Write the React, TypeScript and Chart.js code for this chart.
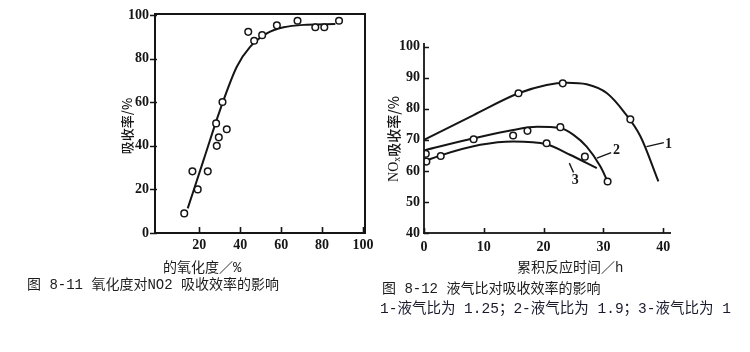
import React, { useEffect, useRef } from "react";
import { Chart, registerables } from "chart.js";

Chart.register(...registerables);

// ---------- Figure 8-11: oxidation degree vs absorption ----------
const oxDegree = [12.6, 16.6, 19.2, 24.1, 28.2, 28.5, 29.5, 31.3, 33.4, 43.9, 46.8, 50.7, 57.9, 68.0, 76.7, 81.1, 88.3];
const absorbRate = [9.0, 28.3, 20.0, 28.3, 50.3, 40.0, 43.9, 60.1, 47.6, 92.3, 88.2, 90.8, 95.3, 97.4, 94.4, 94.4, 97.4];
const fitOx = [14.3, 22.2, 30.1, 38.3, 44.9, 53.0, 61.2, 72.6, 86.5];
const fitRate = [11.3, 33.9, 56.4, 76.3, 85.5, 91.6, 94.4, 95.6, 95.9];
const leftXTicks = [20, 40, 60, 80, 100];
const leftYTicks = [0, 20, 40, 60, 80, 100];

// ---------- Figure 8-12: liquid/gas ratio ----------
const curve1T = [0, 8.3, 15.8, 20.5, 23.9, 27.2, 30.6, 33.4, 36.2, 39.2];
const curve1V = [70.0, 78.0, 85.0, 87.7, 88.4, 87.9, 85.0, 79.1, 71.1, 56.6];
const pts1T = [15.8, 23.2, 34.5];
const pts1V = [85.0, 88.2, 76.6];

const curve2T = [0, 8.3, 14.9, 18.9, 22.8, 25.0, 27.2, 29.5, 30.7];
const curve2V = [66.6, 70.5, 73.2, 74.2, 73.8, 71.6, 67.8, 61.4, 56.6];
const pts2T = [0.3, 8.3, 14.9, 17.3, 22.8, 26.9, 30.7];
const pts2V = [65.5, 70.2, 71.4, 72.9, 74.1, 64.6, 56.6];

const curve3T = [0.2, 2.8, 9.4, 14.9, 20.5, 24.4, 28.9];
const curve3V = [63.2, 65.0, 68.4, 69.5, 68.6, 65.2, 60.9];
const pts3T = [0.4, 2.8, 20.5];
const pts3V = [63.0, 64.8, 68.9];

const curveLabels = ["1", "2", "3"];
const labelT = [40.9, 32.2, 25.3];
const labelV = [68.4, 66.6, 57.1];
const leaderT = [[37.2, 40.1], [28.9, 31.3], [24.3, 25.0]];
const leaderV = [[67.8, 69.1], [64.1, 65.9], [62.5, 59.5]];
const rightXTicks = [0, 10, 20, 30, 40];
const rightYTicks = [40, 50, 60, 70, 80, 90, 100];

// ---------- Texts ----------
const leftYTitle = "吸收率/%";
const leftXTitle = "的氧化度／%";
const leftCaption = "图 8-11 氧化度对NO2 吸收效率的影响";
const rightYTitleMain = "NO";
const rightYTitleSub = "x";
const rightYTitleRest = "吸收率/%";
const rightXTitle = "累积反应时间／h";
const rightCaption = "图 8-12 液气比对吸收效率的影响";
const rightNote = "1-液气比为 1.25；2-液气比为 1.9；3-液气比为 1";

const INK = "#151515";
const TICK_FONT = { family: "'Liberation Serif', 'DejaVu Serif', serif", size: 14, weight: "bold" as const };
const CAP = "'Liberation Mono', 'Noto Sans CJK SC', monospace";
const CJK = "'Noto Sans CJK SC', sans-serif";
const SERIF = "'Liberation Serif', serif";

const zip = (xs: number[], ys: number[]) => xs.map((x, i) => ({ x, y: ys[i] }));

function fixAxis(width?: number, height?: number) {
  return (scale: any) => {
    if (width !== undefined) scale.width = width;
    if (height !== undefined) scale.height = height;
    scale.paddingTop = 0;
    scale.paddingBottom = 0;
    scale.paddingLeft = 0;
    scale.paddingRight = 0;
  };
}

function setTicks(values: number[]) {
  return (scale: any) => {
    scale.ticks = values.map((v) => ({ value: v }));
  };
}

type TextItem = { text: string; x: number; y: number; font: string; color?: string };

function makeDecor(name: string, frame: boolean, yOut: number, yIn: number, xIn: number, texts: TextItem[], vtitle: (ctx: any) => void) {
  return {
    id: name,
    afterDatasetsDraw(chart: any) {
      const ctx = chart.ctx;
      const area = chart.chartArea;
      const xs = chart.scales.x;
      const ys = chart.scales.y;
      ctx.save();
      ctx.strokeStyle = INK;
      ctx.fillStyle = INK;
      const w = 1.8;
      ctx.fillRect(area.left - w / 2, area.top, w, area.bottom - area.top + w / 2);
      ctx.fillRect(area.left - w / 2, area.bottom - w / 2, area.right - area.left + w / 2, w);
      if (frame) {
        ctx.fillRect(area.left - w / 2, area.top - w / 2, area.right - area.left + w, w);
        ctx.fillRect(area.right - w / 2, area.top - w / 2, w, area.bottom - area.top + w);
      }
      ctx.lineWidth = 1.6;
      ctx.beginPath();
      ys.ticks.forEach((t: any) => {
        const py = Math.round(ys.getPixelForValue(t.value)) + 0.5;
        ctx.moveTo(area.left - yOut, py);
        ctx.lineTo(area.left + yIn, py);
      });
      xs.ticks.forEach((t: any) => {
        const px = Math.round(xs.getPixelForValue(t.value)) + 0.5;
        ctx.moveTo(px, area.bottom);
        ctx.lineTo(px, area.bottom - xIn);
      });
      ctx.stroke();
      ctx.textBaseline = "middle";
      ctx.textAlign = "left";
      texts.forEach((t) => {
        ctx.font = t.font;
        ctx.fillStyle = t.color || "#1c1c1c";
        ctx.fillText(t.text, t.x, t.y);
      });
      vtitle(ctx);
      ctx.restore();
    },
  };
}

const curveLabelPlugin = {
  id: "curveLabels",
  afterDatasetsDraw(chart: any) {
    const { ctx, scales } = chart;
    ctx.save();
    ctx.strokeStyle = INK;
    ctx.fillStyle = INK;
    ctx.lineWidth = 1.4;
    curveLabels.forEach((lab, i) => {
      ctx.beginPath();
      ctx.moveTo(scales.x.getPixelForValue(leaderT[i][0]), scales.y.getPixelForValue(leaderV[i][0]));
      ctx.lineTo(scales.x.getPixelForValue(leaderT[i][1]), scales.y.getPixelForValue(leaderV[i][1]));
      ctx.stroke();
      ctx.font = "bold 14px " + SERIF;
      ctx.textAlign = "center";
      ctx.textBaseline = "middle";
      ctx.fillText(lab, scales.x.getPixelForValue(labelT[i]), scales.y.getPixelForValue(labelV[i]));
    });
    ctx.restore();
  },
};

function pointSet(data: { x: number; y: number }[]) {
  return {
    data,
    showLine: false,
    pointRadius: 3.3,
    pointBorderWidth: 1.5,
    pointBackgroundColor: "#ffffff",
    pointBorderColor: INK,
  };
}

function lineSet(data: { x: number; y: number }[]) {
  return {
    data,
    showLine: true,
    borderColor: INK,
    borderWidth: 2,
    pointRadius: 0,
    fill: false,
    cubicInterpolationMode: "monotone" as const,
  };
}

function axes(xMin: number, xMax: number, xTicks: number[], xPad: number, yMin: number, yMax: number, yTicks: number[], yWidth: number, yPad: number) {
  return {
    x: {
      type: "linear" as const,
      min: xMin,
      max: xMax,
      afterBuildTicks: setTicks(xTicks),
      afterFit: fixAxis(undefined, 27),
      grid: { display: false, drawTicks: false },
      border: { display: false },
      ticks: { font: TICK_FONT, color: INK, padding: xPad, maxRotation: 0, autoSkip: false },
    },
    y: {
      type: "linear" as const,
      min: yMin,
      max: yMax,
      afterBuildTicks: setTicks(yTicks),
      afterFit: fixAxis(yWidth, undefined),
      grid: { display: false, drawTicks: false },
      border: { display: false },
      ticks: { font: TICK_FONT, color: INK, padding: yPad, autoSkip: false },
    },
  };
}

function drawRotated(ctx: any, cx: number, cy: number, parts: { text: string; font: string; dy?: number }[]) {
  ctx.save();
  ctx.translate(cx, cy);
  ctx.rotate(-Math.PI / 2);
  ctx.fillStyle = INK;
  ctx.textBaseline = "middle";
  ctx.textAlign = "left";
  let total = 0;
  parts.forEach((p) => {
    ctx.font = p.font;
    total += ctx.measureText(p.text).width;
  });
  let x = -total / 2;
  parts.forEach((p) => {
    ctx.font = p.font;
    ctx.fillText(p.text, x, p.dy || 0);
    x += ctx.measureText(p.text).width;
  });
  ctx.restore();
}

const CANVAS_H = 352;

function LeftChart() {
  const ref = useRef<HTMLCanvasElement>(null);
  useEffect(() => {
    const texts: TextItem[] = [
      { text: leftXTitle, x: 163, y: 268.5, font: "14px " + CAP },
      { text: leftCaption, x: 27, y: 285.5, font: "14px " + CAP },
    ];
    const chart = new Chart(ref.current as HTMLCanvasElement, {
      type: "scatter",
      data: {
        datasets: [pointSet(zip(oxDegree, absorbRate)) as any, lineSet(zip(fitOx, fitRate)) as any],
      },
      options: {
        animation: false,
        responsive: false,
        devicePixelRatio: 1,
        events: [],
        layout: { padding: { left: 0, right: 10, top: 14, bottom: CANVAS_H - 260 } },
        plugins: { legend: { display: false }, tooltip: { enabled: false } },
        scales: axes(-1.7, 101, leftXTicks, 4, 0, 100.5, leftYTicks, 155, 6) as any,
      },
      plugins: [
        makeDecor("leftDecor", true, 5, 2, 6, texts, (ctx) =>
          drawRotated(ctx, 127.5, 126, [{ text: leftYTitle, font: "500 13px " + CJK }])
        ),
      ],
    });
    return () => chart.destroy();
  }, []);
  return (
    <div style={{ position: "absolute", left: 0, top: 0, width: 375, height: CANVAS_H }}>
      <canvas ref={ref} width={375} height={CANVAS_H} style={{ width: 375, height: CANVAS_H }} />
    </div>
  );
}

function RightChart() {
  const ref = useRef<HTMLCanvasElement>(null);
  useEffect(() => {
    const texts: TextItem[] = [
      { text: rightXTitle, x: 517 - 375, y: 268, font: "14px " + CAP },
      { text: rightCaption, x: 382 - 375, y: 289, font: "14px " + CAP },
      { text: rightNote, x: 380 - 375, y: 309, font: "14.5px " + CAP, color: "#1a1a2e" },
    ];
    const chart = new Chart(ref.current as HTMLCanvasElement, {
      type: "scatter",
      data: {
        datasets: [
          pointSet(zip(pts1T, pts1V)) as any,
          pointSet(zip(pts2T, pts2V)) as any,
          pointSet(zip(pts3T, pts3V)) as any,
          lineSet(zip(curve1T, curve1V)) as any,
          lineSet(zip(curve2T, curve2V)) as any,
          lineSet(zip(curve3T, curve3V)) as any,
        ],
      },
      options: {
        animation: false,
        responsive: false,
        devicePixelRatio: 1,
        events: [],
        layout: { padding: { left: 0, right: 79, top: 43, bottom: CANVAS_H - 260 } },
        plugins: { legend: { display: false }, tooltip: { enabled: false } },
        scales: axes(0, 41.3, rightXTicks, 6, 40, 101.2, rightYTicks, 49, 4) as any,
      },
      plugins: [
        makeDecor("rightDecor", false, 0, 5, 5, texts, (ctx) =>
          drawRotated(ctx, 394 - 375, 139, [
            { text: rightYTitleMain, font: "14px " + SERIF },
            { text: rightYTitleSub, font: "10px " + SERIF, dy: 3 },
            { text: rightYTitleRest, font: "500 14px " + CJK },
          ])
        ),
        curveLabelPlugin,
      ],
    });
    return () => chart.destroy();
  }, []);
  return (
    <div style={{ position: "absolute", left: 375, top: 0, width: 375, height: CANVAS_H }}>
      <canvas ref={ref} width={375} height={CANVAS_H} style={{ width: 375, height: CANVAS_H }} />
    </div>
  );
}

export default function App() {
  return (
    <div style={{ position: "absolute", left: 0, top: 0, width: 750, height: 352, background: "#ffffff", overflow: "hidden" }}>
      <LeftChart />
      <RightChart />
      <div
        style={{
          position: "absolute",
          left: 154,
          top: 13,
          width: 212,
          height: 221,
          boxSizing: "border-box",
          borderStyle: "solid",
          borderWidth: 2,
          borderColor: "#151515",
          zIndex: 10,
          pointerEvents: "none",
        }}
      />
    </div>
  );
}
